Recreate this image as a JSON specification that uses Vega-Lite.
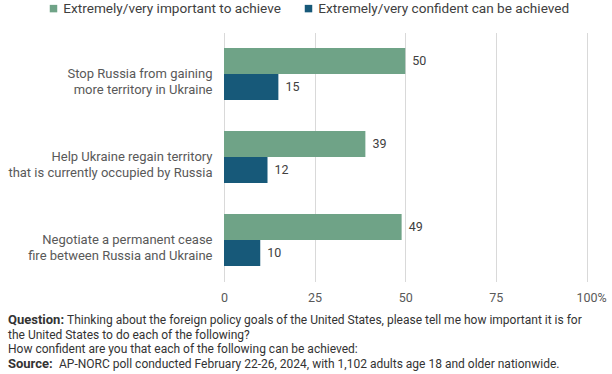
{
  "$schema": "https://vega.github.io/schema/vega-lite/v6.json",
  "width": 362.5,
  "height": 249,
  "autosize": {"type": "none"},
  "padding": {"left": 224, "top": 32.5, "right": 25.5, "bottom": 92.5},
  "background": "white",
  "config": {"view": {"stroke": null}, "font": "Roboto", "text": {"font": "Roboto"}},
  "datasets": {
    "bars": [
      {"goal": "Stop Russia from gaining|more territory in Ukraine", "measure": "Extremely/very important to achieve", "value": 50},
      {"goal": "Stop Russia from gaining|more territory in Ukraine", "measure": "Extremely/very confident can be achieved", "value": 15},
      {"goal": "Help Ukraine regain territory|that is currently occupied by Russia", "measure": "Extremely/very important to achieve", "value": 39},
      {"goal": "Help Ukraine regain territory|that is currently occupied by Russia", "measure": "Extremely/very confident can be achieved", "value": 12},
      {"goal": "Negotiate a permanent cease|fire between Russia and Ukraine", "measure": "Extremely/very important to achieve", "value": 49},
      {"goal": "Negotiate a permanent cease|fire between Russia and Ukraine", "measure": "Extremely/very confident can be achieved", "value": 10}
    ]
  },
  "layer": [
    {
      "data": {"name": "bars"},
      "mark": {"type": "bar"},
      "encoding": {
        "y": {
          "field": "goal", "type": "nominal", "sort": null, "title": null,
          "scale": {"paddingInner": 0.3735, "paddingOuter": 0.18675},
          "axis": {"domain": false, "ticks": false, "labelPadding": 12, "labelFontSize": 13, "labelColor": "#595959", "labelLineHeight": 15.5, "labelLimit": 300, "labelExpr": "split(datum.label, '|')"}
        },
        "yOffset": {"field": "measure", "type": "nominal", "sort": ["Extremely/very important to achieve", "Extremely/very confident can be achieved"], "scale": {"paddingInner": 0, "paddingOuter": 0}},
        "x": {
          "field": "value", "type": "quantitative", "title": null,
          "scale": {"domain": [0, 100], "nice": false},
          "axis": {"values": [0, 25, 50, 75, 100], "domain": false, "ticks": false, "grid": true, "gridColor": "#d9d9d9", "labelFlush": false, "labelPadding": 10, "labelFontSize": 12.5, "labelColor": "#595959", "labelExpr": "datum.value == 100 ? '100%' : datum.label", "labelOffset": {"condition": {"test": "datum.value == 100", "value": 4.5}, "value": 0}}
        },
        "color": {
          "field": "measure", "type": "nominal", "title": null,
          "scale": {"domain": ["Extremely/very important to achieve", "Extremely/very confident can be achieved"], "range": ["#6fa387", "#175979"]},
          "legend": {"orient": "none", "legendX": -177.3, "legendY": -31, "direction": "horizontal", "symbolType": "square", "symbolSize": 56, "symbolStrokeWidth": 0, "labelFontSize": 13.6, "labelColor": "#404040", "labelOffset": 3, "columnPadding": 20, "labelLimit": 400}
        }
      }
    },
    {
      "data": {"name": "bars"},
      "mark": {"type": "text", "align": "left", "baseline": "middle", "dx": 7, "fontSize": 12.5, "color": "#404040"},
      "encoding": {
        "y": {"field": "goal", "type": "nominal", "sort": null},
        "yOffset": {"field": "measure", "type": "nominal", "sort": ["Extremely/very important to achieve", "Extremely/very confident can be achieved"]},
        "x": {"field": "value", "type": "quantitative"},
        "text": {"field": "value", "type": "quantitative"}
      }
    },
    {
      "data": {"values": [{}]},
      "mark": {"type": "text", "align": "left", "baseline": "middle", "fontSize": 13, "fontWeight": "bold", "color": "#333333", "text": "Question:"},
      "encoding": {"x": {"value": -216}, "y": {"value": 287.5}}
    },
    {
      "data": {"values": [{}]},
      "mark": {"type": "text", "align": "left", "baseline": "middle", "fontSize": 12, "color": "#333333", "text": "Thinking about the foreign policy goals of the United States, please tell me how important it is for"},
      "encoding": {"x": {"value": -157}, "y": {"value": 287.5}}
    },
    {
      "data": {"values": [{}]},
      "mark": {"type": "text", "align": "left", "baseline": "middle", "fontSize": 12, "color": "#333333", "text": "the United States to do each of the following?"},
      "encoding": {"x": {"value": -216}, "y": {"value": 302}}
    },
    {
      "data": {"values": [{}]},
      "mark": {"type": "text", "align": "left", "baseline": "middle", "fontSize": 12, "color": "#333333", "text": "How confident are you that each of the following can be achieved:"},
      "encoding": {"x": {"value": -216}, "y": {"value": 316.5}}
    },
    {
      "data": {"values": [{}]},
      "mark": {"type": "text", "align": "left", "baseline": "middle", "fontSize": 13, "fontWeight": "bold", "color": "#333333", "text": "Source:"},
      "encoding": {"x": {"value": -216}, "y": {"value": 331.5}}
    },
    {
      "data": {"values": [{}]},
      "mark": {"type": "text", "align": "left", "baseline": "middle", "fontSize": 12, "color": "#333333", "text": "AP-NORC poll conducted February 22-26, 2024, with 1,102 adults age 18 and older nationwide."},
      "encoding": {"x": {"value": -165}, "y": {"value": 331.5}}
    }
  ]
}
